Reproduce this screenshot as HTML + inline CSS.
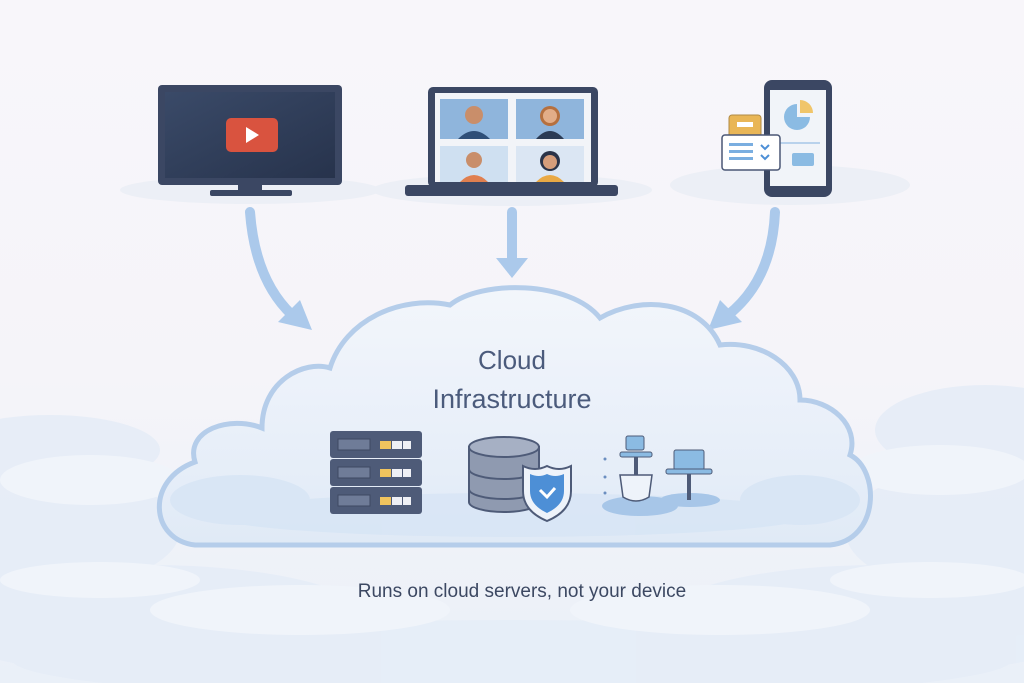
<!DOCTYPE html>
<html><head><meta charset="utf-8"><style>
html,body{margin:0;padding:0;width:1024px;height:683px;overflow:hidden;background:#f7f5fa}
svg{display:block}
text{font-family:"Liberation Sans",sans-serif}
</style></head><body>
<svg width="1024" height="683" viewBox="0 0 1024 683" xmlns="http://www.w3.org/2000/svg">
<defs>
<linearGradient id="bg" x1="0" y1="0" x2="0" y2="1">
<stop offset="0" stop-color="#f8f6fa"/><stop offset="0.55" stop-color="#f5f4f9"/><stop offset="1" stop-color="#eaf0f8"/>
</linearGradient>
<linearGradient id="cl" x1="0" y1="0" x2="0" y2="1">
<stop offset="0" stop-color="#f3f6fb"/><stop offset="0.6" stop-color="#e8eff9"/><stop offset="1" stop-color="#e0eaf6"/>
</linearGradient>
<linearGradient id="scr" x1="0" y1="0" x2="1" y2="1">
<stop offset="0" stop-color="#3a4a68"/><stop offset="1" stop-color="#27334c"/>
</linearGradient>
</defs>
<rect width="1024" height="683" fill="url(#bg)"/>
<!-- background clouds bottom -->
<g fill="#e6edf7" opacity="0.9">
<ellipse cx="50" cy="450" rx="110" ry="35"/><ellipse cx="40" cy="530" rx="140" ry="60"/>
<ellipse cx="985" cy="430" rx="110" ry="45"/><ellipse cx="985" cy="530" rx="140" ry="65"/>
<ellipse cx="150" cy="620" rx="220" ry="55"/><ellipse cx="880" cy="620" rx="220" ry="55"/>
<ellipse cx="512" cy="660" rx="500" ry="40"/>
</g>
<g fill="#f0f4fa">
<ellipse cx="90" cy="480" rx="90" ry="25"/><ellipse cx="940" cy="470" rx="90" ry="25"/>
<ellipse cx="300" cy="610" rx="150" ry="25"/><ellipse cx="720" cy="610" rx="150" ry="25"/>
<ellipse cx="100" cy="580" rx="100" ry="18"/><ellipse cx="930" cy="580" rx="100" ry="18"/>
</g>
<!-- soft clouds behind devices -->
<g fill="#eceff6">
<ellipse cx="250" cy="190" rx="130" ry="14"/><ellipse cx="512" cy="190" rx="140" ry="16"/><ellipse cx="790" cy="185" rx="120" ry="20"/>
</g>
<!-- TV -->
<rect x="158" y="85" width="184" height="100" rx="4" fill="#3b4763"/>
<rect x="165" y="92" width="170" height="86" fill="url(#scr)"/>
<rect x="238" y="184" width="24" height="8" fill="#3b4763"/>
<rect x="210" y="190" width="82" height="6" rx="2" fill="#3b4763"/>
<rect x="226" y="118" width="52" height="34" rx="5" fill="#d9533f"/>
<polygon points="246,127 246,143 259,135" fill="#fff"/>
<!-- Laptop -->
<rect x="428" y="87" width="170" height="100" rx="5" fill="#3b4763"/>
<rect x="435" y="93" width="156" height="89" fill="#f2f4f8"/>
<rect x="440" y="99" width="68" height="40" fill="#8fb5dc"/>
<rect x="516" y="99" width="68" height="40" fill="#8fb5dc"/>
<rect x="440" y="146" width="68" height="36" fill="#cfe0f1"/>
<rect x="516" y="146" width="68" height="36" fill="#dbe6f3"/>
<circle cx="474" cy="115" r="9" fill="#c98e6a"/><path d="M458 139 q16-16 32 0z" fill="#2f4f78"/>
<circle cx="550" cy="116" r="10" fill="#b5703f"/><circle cx="550" cy="116" r="7" fill="#e2ad88"/><path d="M536 139 q14-16 28 0z" fill="#2b3b55"/>
<circle cx="474" cy="160" r="8" fill="#c98e6a"/><path d="M460 182 q14-14 28 0z" fill="#e07f4f"/>
<circle cx="550" cy="161" r="10" fill="#2b3348"/><circle cx="550" cy="162" r="7" fill="#d69d7a"/><path d="M536 182 q14-14 28 0z" fill="#e9a945"/>
<rect x="405" y="185" width="213" height="11" rx="3" fill="#3b4763"/>
<!-- Phone -->
<rect x="764" y="80" width="68" height="117" rx="8" fill="#3b4763"/>
<rect x="770" y="90" width="56" height="96" fill="#f1f4f9"/>
<path d="M797 104 a13 13 0 1 0 13 13 h-13z" fill="#8bbbe3"/><path d="M800 100 a13 13 0 0 1 13 13 h-13z" fill="#f0c56a"/>
<rect x="792" y="153" width="22" height="13" rx="2" fill="#8bbbe3"/>
<rect x="780" y="142" width="40" height="2" fill="#b9d2ec"/>
<rect x="729" y="115" width="32" height="24" rx="3" fill="#e9b656" stroke="#b08a45"/>
<rect x="737" y="122" width="16" height="5" fill="#fff"/>
<rect x="722" y="135" width="58" height="35" rx="3" fill="#fff" stroke="#4a5775" stroke-width="1.5"/>
<g fill="#7aaee0"><rect x="729" y="143" width="24" height="3"/><rect x="729" y="150" width="24" height="3"/><rect x="729" y="157" width="24" height="3"/></g>
<path d="M761 145 l4 4 l4 -4 M761 155 l4 4 l4 -4" stroke="#4d8fd6" stroke-width="2" fill="none"/>
<!-- Arrows -->
<g fill="none" stroke="#abc9eb" stroke-width="10" stroke-linecap="round">
<path d="M250 212 Q255 280 292 315"/>
<path d="M512 212 L512 262"/>
<path d="M775 212 Q772 280 728 315"/>
</g>
<g fill="#abc9eb">
<polygon points="278,322 312,330 300,300"/>
<polygon points="496,258 528,258 512,278"/>
<polygon points="742,322 708,330 720,300"/>
</g>
<!-- Main cloud -->
<path d="M195 545 C150 540 145 480 195 462 C185 430 230 415 262 428 C262 380 305 360 330 368 C345 320 400 295 450 305 C480 280 570 280 600 318 C640 295 700 300 720 345 C760 340 800 365 800 400 C830 400 860 425 850 455 C880 470 880 540 830 545 Z" fill="url(#cl)" stroke="#b5cdea" stroke-width="5"/>
<g fill="#d7e5f5" opacity="0.8">
<ellipse cx="512" cy="515" rx="300" ry="22"/><ellipse cx="240" cy="500" rx="70" ry="25"/><ellipse cx="800" cy="500" rx="60" ry="25"/>
</g>
<text x="512" y="369" text-anchor="middle" font-size="26" fill="#4b5b7c">Cloud</text>
<text x="512" y="408" text-anchor="middle" font-size="27" fill="#4b5b7c">Infrastructure</text>
<!-- servers -->
<g>
<rect x="330" y="431" width="92" height="27" rx="3" fill="#4e5b78"/>
<rect x="330" y="459" width="92" height="27" rx="3" fill="#4e5b78"/>
<rect x="330" y="487" width="92" height="27" rx="3" fill="#4e5b78"/>
<g fill="#6f7c98" stroke="#3d4862"><rect x="338" y="439" width="32" height="11"/><rect x="338" y="467" width="32" height="11"/><rect x="338" y="495" width="32" height="11"/></g>
<g fill="#f0c45e"><rect x="380" y="441" width="11" height="8"/><rect x="380" y="469" width="11" height="8"/><rect x="380" y="497" width="11" height="8"/></g>
<g fill="#eef0f5"><rect x="392" y="441" width="10" height="8"/><rect x="403" y="441" width="8" height="8"/><rect x="392" y="469" width="10" height="8"/><rect x="403" y="469" width="8" height="8"/><rect x="392" y="497" width="10" height="8"/><rect x="403" y="497" width="8" height="8"/></g>
</g>
<!-- database -->
<path d="M469 447 v55 a35 10 0 0 0 70 0 v-55z" fill="#8f9ab0" stroke="#4e5b78" stroke-width="2"/>
<ellipse cx="504" cy="447" rx="35" ry="10" fill="#a6b0c4" stroke="#4e5b78" stroke-width="2"/>
<path d="M469 469 a35 10 0 0 0 70 0 M469 489 a35 10 0 0 0 70 0" fill="none" stroke="#4e5b78" stroke-width="2"/>
<path d="M547 466 q12 6 24 0 v25 q0 20 -24 30 q-24 -10 -24 -30 v-25 q12 6 24 0z" fill="#eef3fa" stroke="#4e5b78" stroke-width="2"/>
<path d="M547 474 q8 4 17 0 v17 q0 14 -17 22 q-17 -8 -17 -22 v-17 q9 4 17 0z" fill="#4d8fd6"/>
<path d="M540 490 l7 7 l8 -9" stroke="#fff" stroke-width="3" fill="none"/>
<!-- small icons -->
<g fill="#6b8ec0"><circle cx="605" cy="459" r="1.5"/><circle cx="605" cy="477" r="1.5"/><circle cx="605" cy="493" r="1.5"/></g>
<ellipse cx="640" cy="506" rx="38" ry="10" fill="#a7c6e8"/>
<rect x="626" y="436" width="18" height="14" rx="2" fill="#8bbbe3" stroke="#4e5b78"/>
<rect x="620" y="452" width="32" height="5" rx="2" fill="#8bbbe3" stroke="#4e5b78"/>
<rect x="634" y="457" width="4" height="18" fill="#4e5b78"/>
<path d="M620 475 h32 l-3 22 q-13 8 -26 0z" fill="#eef3fa" stroke="#4e5b78" stroke-width="1.5"/>
<ellipse cx="690" cy="500" rx="30" ry="7" fill="#a7c6e8"/>
<rect x="674" y="450" width="30" height="20" rx="2" fill="#8bbbe3" stroke="#4e5b78"/>
<rect x="666" y="469" width="46" height="5" rx="2" fill="#8bbbe3" stroke="#4e5b78"/>
<rect x="687" y="474" width="4" height="26" fill="#4e5b78"/>
<!-- caption -->
<text x="522" y="597" text-anchor="middle" font-size="19" fill="#3c4862">Runs on cloud servers, not your device</text>
</svg>
</body></html>
